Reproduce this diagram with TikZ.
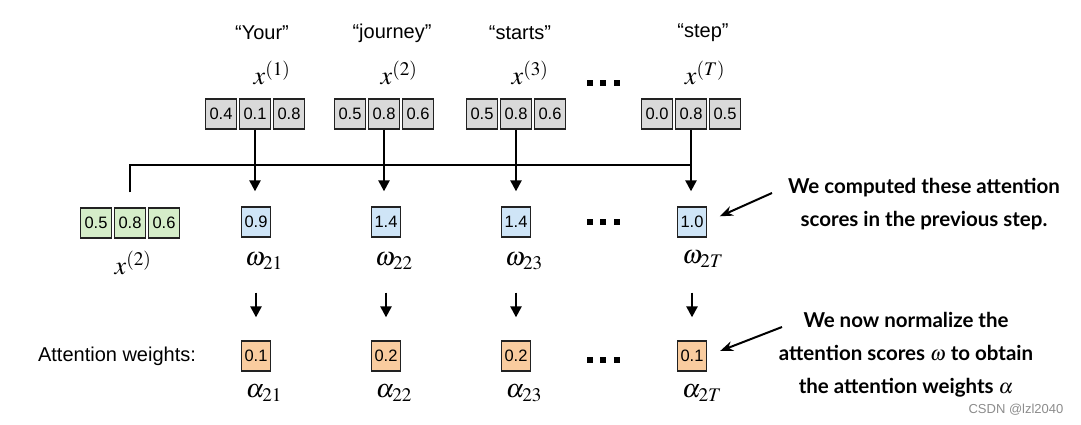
\documentclass[tikz,border=0pt]{standalone}
\usepackage{mathptmx}
\usepackage[no-math]{fontspec}
\setmainfont{Liberation Sans}
\newfontfamily\annfont{Lato}
\usetikzlibrary{arrows.meta}
\definecolor{grayfill}{HTML}{D9D9D9}
\definecolor{greenfill}{HTML}{D5EDC9}
\definecolor{bluefill}{HTML}{CFE5F7}
\definecolor{orangefill}{HTML}{F9CC9F}
\definecolor{edge}{HTML}{222222}
\begin{document}
\begin{tikzpicture}[x=1pt,y=-1pt,
  cell/.style={draw=edge, line width=1.3pt, minimum width=31pt, minimum height=30pt, inner sep=0pt, font=\fontsize{16.5}{18}\selectfont},
  gcell/.style={cell, fill=grayfill},
  grcell/.style={cell, fill=greenfill},
  bcell/.style={cell, fill=bluefill, minimum width=29pt},
  ocell/.style={cell, fill=orangefill, minimum width=29pt},
  word/.style={font=\fontsize{20}{24}\selectfont},
  mlbl/.style={font=\fontsize{26}{30}\selectfont, inner sep=0pt},
  ann/.style={font=\annfont\bfseries\fontsize{20.5}{33}\selectfont, align=center},
  conn/.style={line width=2.4pt, draw=black},
  arr/.style={conn, -{Triangle[length=11pt,width=11pt]}},
  annarr/.style={line width=2pt, -{Stealth[length=13pt,width=10pt]}},
  dot/.style={fill=black}
]
\useasboundingbox (0,0) rectangle (1081,425);

% words
\node[word] (w1) at (262,33) {“Your”};
\node[word] (w2) at (392,33) {“journey”};
\node[word] (w3) at (520,33) {“starts”};
\node[word] (w4) at (703,33) {“step”};

% input symbols
\node[mlbl] (t1) at (272,73) {$x^{(1)}$};
\node[mlbl] (t2) at (399,73) {$x^{(2)}$};
\node[mlbl] (t3) at (530,73) {$x^{(3)}$};
\node[mlbl] (t4) at (705,73) {$x^{(T)}$};

% top vectors
\node[gcell] (g1a) at (221,114) {0.4};
\node[gcell] (g1b) at (255,114) {0.1};
\node[gcell] (g1c) at (289,114) {0.8};
\node[gcell] (g2a) at (350,114) {0.5};
\node[gcell] (g2b) at (384,114) {0.8};
\node[gcell] (g2c) at (418,114) {0.6};
\node[gcell] (g3a) at (482,114) {0.5};
\node[gcell] (g3b) at (516,114) {0.8};
\node[gcell] (g3c) at (550,114) {0.6};
\node[gcell] (g4a) at (657,114) {0.0};
\node[gcell] (g4b) at (691,114) {0.8};
\node[gcell] (g4c) at (725,114) {0.5};

% query vector
\node[grcell] (q1) at (96,223) {0.5};
\node[grcell] (q2) at (130,223) {0.8};
\node[grcell] (q3) at (164,223) {0.6};
\node[mlbl] (ql) at (133,263) {$x^{(2)}$};

% scores
\node[bcell] (s1) at (256,222) {0.9};
\node[bcell] (s2) at (386,222) {1.4};
\node[bcell] (s3) at (516,222) {1.4};
\node[bcell] (s4) at (692,222) {1.0};
\node[mlbl] (sl1) at (264,261) {$\omega_{21}$};
\node[mlbl] (sl2) at (394,261) {$\omega_{22}$};
\node[mlbl] (sl3) at (524,261) {$\omega_{23}$};
\node[mlbl] (sl4) at (703,259) {$\omega_{2T}$};

% weights
\node[font=\fontsize{20}{24}\selectfont] (awl) at (117,356) {Attention weights:};
\node[ocell] (o1) at (256,356) {0.1};
\node[ocell] (o2) at (386,356) {0.2};
\node[ocell] (o3) at (516,356) {0.2};
\node[ocell] (o4) at (692,356) {0.1};
\node[mlbl] (al1) at (264,393) {$\alpha_{21}$};
\node[mlbl] (al2) at (394,393) {$\alpha_{22}$};
\node[mlbl] (al3) at (524,393) {$\alpha_{23}$};
\node[mlbl] (al4) at (702,393) {$\alpha_{2T}$};

% bracket line
\coordinate (hl) at (691,165);
\draw[conn, shorten <=15pt] (q2.north) |- (hl);

% arrows top -> scores
\draw[arr, shorten >=15pt] (g1b.south) -- (g1b.south |- s1.north);
\draw[arr, shorten >=15pt] (g2b.south) -- (g2b.south |- s2.north);
\draw[arr, shorten >=15pt] (g3b.south) -- (g3b.south |- s3.north);
\draw[arr, shorten >=15pt] (g4b.south) -- (g4b.south |- s4.north);

% arrows scores -> weights
\draw[arr, shorten <=55pt, shorten >=23pt] (s1.south) -- (o1.north);
\draw[arr, shorten <=55pt, shorten >=23pt] (s2.south) -- (o2.north);
\draw[arr, shorten <=55pt, shorten >=23pt] (s3.south) -- (o3.north);
\draw[arr, shorten <=55pt, shorten >=23pt] (s4.south) -- (o4.north);

% dots
\foreach \yy in {83,222,360}{
  \foreach \xx in {590,603,617}{
    \fill[dot] (\xx-2.7,\yy-2.7) rectangle (\xx+2.7,\yy+2.7);
  }
}

% annotations
\node[ann] (annA) at (924,204) {We computed these attention\\scores in the previous step.};
\coordinate (annAs) at (772,193);
\draw[annarr, shorten >=14pt] (annAs) -- (s4.east);

\node[ann] (annB) at (906,355) {We now normalize the\\attention scores $\omega$ to obtain\\the attention weights $\alpha$};
\coordinate (annBs) at (782,327);
\draw[annarr, shorten >=14pt] (annBs) -- (o4.east);

% watermark
\node[font=\fontsize{13}{15}\selectfont, text=black!45] (wm) at (1016,410) {CSDN @lzl2040};
\end{tikzpicture}
\end{document}
